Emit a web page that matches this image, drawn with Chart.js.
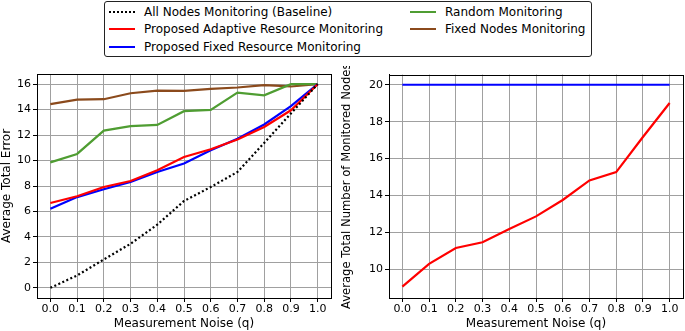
<!DOCTYPE html>
<html>
<head>
<meta charset="utf-8">
<script src="https://cdn.jsdelivr.net/npm/chart.js@4.4.1/dist/chart.umd.min.js"></script>
<style>
  body { margin: 0; width: 685px; height: 331px; background: #fff; position: relative; overflow: hidden; font-family: "DejaVu Sans", sans-serif; }
  .box { position: absolute; }
  #legend { position: absolute; left: 104px; top: 1px; width: 486px; height: 54px; border: 1px solid #222; border-radius: 3px; font-size: 12px; color: #000; }
  .item { position: absolute; height: 14px; line-height: 14px; white-space: nowrap; }
  .swatch { position: absolute; left: 0; top: 6px; width: 26px; height: 0; }
  .label { position: absolute; left: 35px; top: 0; }
</style>
</head>
<body>
<div id="legend"></div>
<div class="box" style="left:0;top:62px;width:340px;height:269px"><canvas id="errorChart"></canvas></div>
<div class="box" style="left:340px;top:66px;width:345px;height:265px"><canvas id="nodesChart"></canvas></div>
<script>
// Data
const noise = [0.0, 0.1, 0.2, 0.3, 0.4, 0.5, 0.6, 0.7, 0.8, 0.9, 1.0];
const baselineError = [0.0, 0.97, 2.23, 3.46, 4.96, 6.82, 7.92, 9.1, 11.38, 13.7, 16.0];
const adaptiveError = [6.66, 7.19, 7.92, 8.39, 9.23, 10.28, 10.89, 11.65, 12.64, 13.95, 16.0];
const fixedResourceError = [6.22, 7.13, 7.74, 8.31, 9.1, 9.76, 10.8, 11.72, 12.83, 14.27, 16.0];
const randomError = [9.86, 10.52, 12.35, 12.7, 12.8, 13.88, 13.98, 15.34, 15.13, 16.0, 16.0];
const fixedNodesError = [14.43, 14.79, 14.82, 15.29, 15.5, 15.48, 15.63, 15.74, 15.92, 15.82, 16.0];
const adaptiveNodes = [9.07, 10.3, 11.16, 11.47, 12.19, 12.87, 13.76, 14.82, 15.27, 17.17, 19.01];
const fixedResourceNodes = [20, 20, 20, 20, 20, 20, 20, 20, 20, 20, 20];
const xTicks = [0.0, 0.1, 0.2, 0.3, 0.4, 0.5, 0.6, 0.7, 0.8, 0.9, 1.0];
const errorTicks = [0, 2, 4, 6, 8, 10, 12, 14, 16];
const nodesTicks = [10, 12, 14, 16, 18, 20];

const RED = '#ff0000', BLUE = '#0000ff', GREEN = '#4f9d32', BROWN = '#8b4a1c';
const FONT = "'DejaVu Sans', sans-serif";

// Legend (HTML, two columns)
const legendItems = [
  { text: 'All Nodes Monitoring (Baseline)', color: '#000', dotted: true, x: 4, y: 3 },
  { text: 'Proposed Adaptive Resource Monitoring', color: RED, x: 4, y: 20 },
  { text: 'Proposed Fixed Resource Monitoring', color: BLUE, x: 4, y: 38 },
  { text: 'Random Monitoring', color: GREEN, x: 305, y: 3 },
  { text: 'Fixed Nodes Monitoring', color: BROWN, x: 305, y: 20 }
];
const legendEl = document.getElementById('legend');
legendItems.forEach(it => {
  const d = document.createElement('div');
  d.className = 'item';
  d.style.left = it.x + 'px';
  d.style.top = it.y + 'px';
  const border = it.dotted ? '2px dotted ' + it.color : '2px solid ' + it.color;
  d.innerHTML = `<span class="swatch" style="border-top:${border}"></span><span class="label">${it.text}</span>`;
  legendEl.appendChild(d);
});

function toPoints(ys) {
  return noise.map((x, i) => ({ x: x, y: ys[i] }));
}

function line(label, ys, color, dash) {
  return {
    label: label,
    data: toPoints(ys),
    borderColor: color,
    backgroundColor: color,
    borderWidth: 2.2,
    borderDash: dash || [],
    pointRadius: 0,
    tension: 0,
    fill: false
  };
}

// draws the full black axes box
const frame = {
  id: 'frame',
  afterDatasetsDraw(chart) {
    const a = chart.chartArea, ctx = chart.ctx;
    ctx.save();
    ctx.strokeStyle = '#000';
    ctx.lineWidth = 1;
    ctx.strokeRect(Math.round(a.left) + 0.5, Math.round(a.top) + 0.5, Math.round(a.right - a.left), Math.round(a.bottom - a.top));
    ctx.restore();
  }
};

function makeOptions(yTitle, yTitleSize, yMin, yMax, yTicks, yWidth, pad) {
  return {
    responsive: true,
    maintainAspectRatio: false,
    animation: false,
    layout: { padding: pad },
    plugins: { legend: { display: false }, tooltip: { enabled: false } },
    scales: {
      x: {
        type: 'linear',
        min: -0.05,
        max: 1.05,
        afterBuildTicks: s => { s.ticks = xTicks.map(v => ({ value: v })); },
        afterFit: s => { s.height = 33; },
        ticks: { color: '#000', font: { family: FONT, size: 11 }, padding: 1, maxRotation: 0, callback: v => v.toFixed(1) },
        grid: { color: '#a0a0a0', lineWidth: 1, tickColor: '#000', tickLength: 4 },
        border: { color: '#000', width: 1 },
        title: { display: true, text: 'Measurement Noise (q)', color: '#000', font: { family: FONT, size: 12 }, padding: { top: 2, bottom: 0 } }
      },
      y: {
        type: 'linear',
        min: yMin,
        max: yMax,
        afterBuildTicks: s => { s.ticks = yTicks.map(v => ({ value: v })); },
        afterFit: s => { s.width = yWidth; },
        ticks: { color: '#000', font: { family: FONT, size: 11 }, padding: 2 },
        grid: { color: '#a0a0a0', lineWidth: 1, tickColor: '#000', tickLength: 4 },
        border: { color: '#000', width: 1 },
        title: { display: true, text: yTitle, color: '#000', font: { family: FONT, size: yTitleSize }, padding: { top: 0, bottom: 0 } }
      }
    }
  };
}

new Chart(document.getElementById('errorChart'), {
  type: 'line',
  data: {
    datasets: [
      line('All Nodes Monitoring (Baseline)', baselineError, '#000', [2, 2.4]),
      line('Proposed Adaptive Resource Monitoring', adaptiveError, RED),
      line('Proposed Fixed Resource Monitoring', fixedResourceError, BLUE),
      line('Random Monitoring', randomError, GREEN),
      line('Fixed Nodes Monitoring', fixedNodesError, BROWN)
    ]
  },
  options: makeOptions('Average Total Error', 12, -0.8, 16.8, errorTicks, 37, { top: 12, right: 9, bottom: 0, left: 0 }),
  plugins: [frame]
});

new Chart(document.getElementById('nodesChart'), {
  type: 'line',
  data: {
    datasets: [
      line('Proposed Adaptive Resource Monitoring', adaptiveNodes, RED),
      line('Proposed Fixed Resource Monitoring', fixedResourceNodes, BLUE)
    ]
  },
  options: makeOptions('Average Total Number of Monitored Nodes', 11.6, 8.45, 20.55, nodesTicks, 49, { top: 8, right: 2, bottom: 0, left: 0 }),
  plugins: [frame]
});
</script>
</body>
</html>
